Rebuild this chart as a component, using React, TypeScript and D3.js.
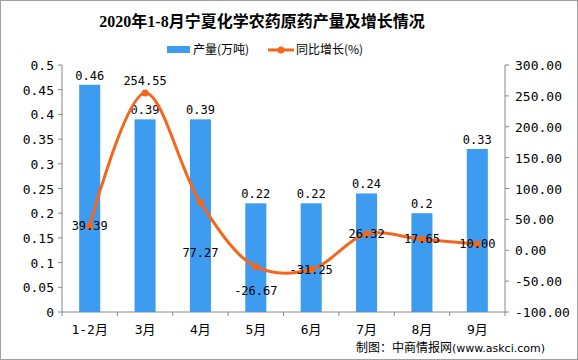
import React from "react";
import * as d3 from "d3";

const categories = ["1-2月", "3月", "4月", "5月", "6月", "7月", "8月", "9月"];
const output = [0.46, 0.39, 0.39, 0.22, 0.22, 0.24, 0.2, 0.33];
const growth = [39.39, 254.55, 77.27, -26.67, -31.25, 26.32, 17.65, 10.0];
const leftTicks = [0, 0.05, 0.1, 0.15, 0.2, 0.25, 0.3, 0.35, 0.4, 0.45, 0.5];
const rightTicks = [-100, -50, 0, 50, 100, 150, 200, 250, 300];

const W = 578;
const H = 360;
const left = 62;
const right = 505;
const top = 65;
const bottom = 312;

const barColor = "#3d9cf0";
const lineColor = "#f4661b";
const numFont = "'DejaVu Sans Mono', monospace";
const cjkFont = "'Noto Sans CJK SC', sans-serif";

// label offsets for the growth values (picture places some below the point)
const growthLabelDy = [0, -12, 50, 24, 0, 0, 0, 0];

const App = () => {
  const x = d3.scaleBand().domain(categories).range([left, right]).paddingInner(0.62).paddingOuter(0.31);
  const yL = d3.scaleLinear().domain([0, 0.5]).range([bottom, top]);
  const yR = d3.scaleLinear().domain([-100, 300]).range([bottom, top]);
  const cx = (c: string) => (x(c) ?? 0) + x.bandwidth() / 2;
  const step = (right - left) / categories.length;

  const line = d3
    .line<number>()
    .x((_, i) => cx(categories[i]))
    .y((d) => yR(d))
    .curve(d3.curveCatmullRom.alpha(0.5));

  return (
    <svg width={W} height={H} style={{ position: "absolute", left: 0, top: 0, background: "#fff" }}>
      <rect x={0.5} y={0.5} width={W - 1} height={H - 1} fill="#fff" stroke="#a0a0a0" />
      <text x={262} y={27} textAnchor="middle" fontSize={16} fontWeight="bold" fontFamily={`'Liberation Serif', ${cjkFont}`} fill="#000">
        2020年1-8月宁夏化学农药原药产量及增长情况
      </text>

      {/* legend */}
      <rect x={167} y={46} width={23} height={7} fill={barColor} />
      <text x={193} y={54} fontSize={12} fontFamily={cjkFont} fill="#000">产量(万吨)</text>
      <line x1={268} x2={294} y1={50} y2={50} stroke={lineColor} strokeWidth={3} />
      <circle cx={281} cy={50} r={3.5} fill={lineColor} />
      <text x={296} y={54} fontSize={12} fontFamily={cjkFont} fill="#000">同比增长(%)</text>

      {/* left axis */}
      <line x1={left} x2={left} y1={top} y2={bottom} stroke="#888" />
      {leftTicks.map((t) => (
        <g key={"l" + t}>
          <line x1={left - 4} x2={left} y1={yL(t)} y2={yL(t)} stroke="#888" />
          <text x={left - 8} y={yL(t) + 5} textAnchor="end" fontSize={13} fontFamily={numFont} fill="#000">
            {String(t)}
          </text>
        </g>
      ))}

      {/* right axis */}
      <line x1={right} x2={right} y1={top} y2={bottom} stroke="#888" />
      {rightTicks.map((t) => (
        <g key={"r" + t}>
          <line x1={right} x2={right + 4} y1={yR(t)} y2={yR(t)} stroke="#888" />
          <text x={right + 10} y={yR(t) + 5} fontSize={13} fontFamily={numFont} fill="#000">
            {t.toFixed(2)}
          </text>
        </g>
      ))}

      {/* bottom axis */}
      <line x1={left} x2={right} y1={bottom} y2={bottom} stroke="#888" />
      {d3.range(categories.length + 1).map((i) => (
        <line key={"bt" + i} x1={left + i * step} x2={left + i * step} y1={bottom} y2={bottom + 4} stroke="#888" />
      ))}
      {categories.map((c) => (
        <text key={"bl" + c} x={cx(c)} y={bottom + 22} textAnchor="middle" fontSize={13} fontFamily={`${numFont}, ${cjkFont}`} fill="#000">
          {c}
        </text>
      ))}

      {/* bars */}
      {categories.map((c, i) => (
        <g key={"b" + c}>
          <rect x={x(c)} y={yL(output[i])} width={x.bandwidth()} height={bottom - yL(output[i])} fill={barColor} />
          <text x={cx(c)} y={yL(output[i]) - 5} textAnchor="middle" fontSize={12} fontFamily={numFont} fill="#000">
            {String(output[i])}
          </text>
        </g>
      ))}

      {/* growth line */}
      <path d={line(growth) ?? ""} fill="none" stroke={lineColor} strokeWidth={3} />
      {growth.map((g, i) => (
        <circle key={"p" + i} cx={cx(categories[i])} cy={yR(g)} r={3.5} fill={lineColor} />
      ))}
      {growth.map((g, i) => (
        <text key={"gl" + i} x={cx(categories[i])} y={yR(g) + growthLabelDy[i] + 4} textAnchor="middle" fontSize={12} fontFamily={numFont} fill="#000">
          {g.toFixed(2)}
        </text>
      ))}

      <text x={545} y={352} textAnchor="end" fontSize={12} fontFamily={cjkFont} fill="#000">
        制图：中商情报网<tspan fontFamily="'DejaVu Sans', sans-serif" fontSize={11}>(www.askci.com)</tspan>
      </text>
    </svg>
  );
};

export default App;
